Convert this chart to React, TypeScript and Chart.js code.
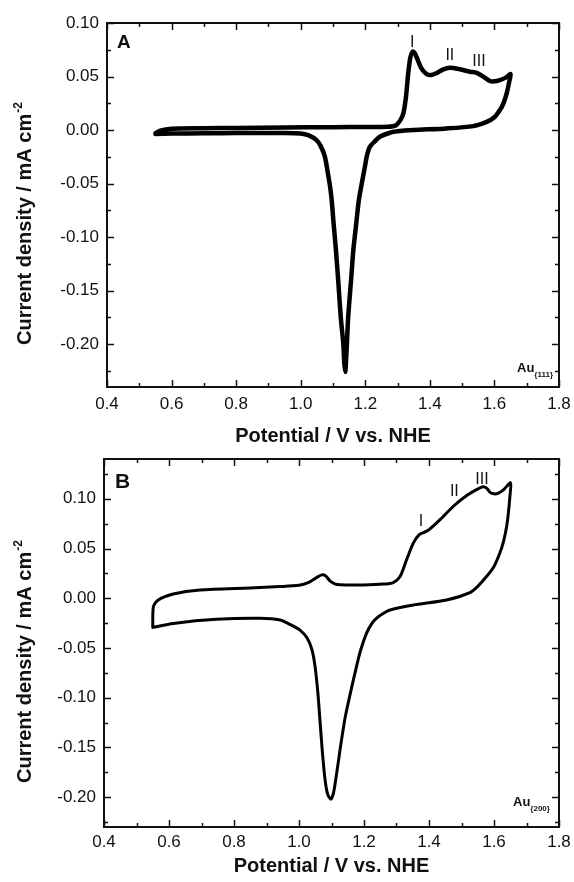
import React, { useEffect, useRef } from 'react';
import { Chart, registerables } from 'chart.js';

Chart.register(...registerables);

const FONT = '"Liberation Sans", Arial, Helvetica, sans-serif';
const INK = '#111111';

// ---------- Panel A : Au{111} ----------
const potentialA = [
  0.55, 0.565, 0.6, 0.7, 0.8, 0.95, 1.1, 1.2, 1.27, 1.295, 1.31, 1.318, 1.326, 1.333, 1.34, 1.347, 1.353,
  1.359, 1.374, 1.39, 1.405, 1.42, 1.44, 1.462, 1.49, 1.524, 1.545, 1.565, 1.586, 1.6, 1.617, 1.635, 1.65,
  1.645, 1.638, 1.628, 1.617, 1.6, 1.576, 1.534, 1.452, 1.349, 1.3, 1.276, 1.245, 1.228, 1.214, 1.205, 1.199,
  1.189, 1.18, 1.171, 1.163, 1.156, 1.147, 1.143, 1.14, 1.138, 1.135, 1.132, 1.124, 1.116, 1.109, 1.101,
  1.096, 1.091, 1.084, 1.075, 1.062, 1.049, 1.025, 1.0, 0.95, 0.8, 0.7, 0.6, 0.55,
];
const currentA = [
  -0.003, -0.0005, 0.0012, 0.0017, 0.002, 0.0025, 0.0027, 0.0029, 0.003, 0.0045, 0.01, 0.0156, 0.031, 0.053, 0.0685, 0.0732, 0.072,
  0.068, 0.0576, 0.0523, 0.0514, 0.053, 0.0565, 0.0582, 0.057, 0.0545, 0.0535, 0.05, 0.0458, 0.0455, 0.0467, 0.049, 0.0523,
  0.044, 0.0342, 0.025, 0.0187, 0.012, 0.0077, 0.0037, 0.0015, 0.0, -0.0012, -0.0025, -0.0063, -0.011, -0.0157, -0.024, -0.034,
  -0.05, -0.0655, -0.09, -0.112, -0.14, -0.1746, -0.2, -0.218, -0.226, -0.218, -0.2, -0.1746, -0.14, -0.112, -0.084,
  -0.0655, -0.053, -0.04, -0.025, -0.015, -0.0094, -0.005, -0.0033, -0.0028, -0.0028, -0.003, -0.0033, -0.0036,
];

// ---------- Panel B : Au{200} ----------
const potentialB = [
  0.55, 0.552, 0.567, 0.613, 0.695, 0.849, 0.942, 1.0, 1.03, 1.055, 1.07, 1.082, 1.095, 1.11, 1.126, 1.198,
  1.26, 1.29, 1.311, 1.331, 1.352, 1.37, 1.39, 1.403, 1.434, 1.475, 1.516, 1.545, 1.567, 1.578, 1.588, 1.6,
  1.612, 1.629, 1.651,
  1.649, 1.644, 1.639, 1.63, 1.618, 1.6, 1.577, 1.55, 1.526, 1.454, 1.352, 1.28, 1.26, 1.239, 1.225, 1.208,
  1.188, 1.176, 1.162, 1.142, 1.126, 1.115, 1.106, 1.098, 1.088, 1.08, 1.072, 1.065, 1.058, 1.05, 1.04, 1.025, 1.003,
  0.97, 0.942, 0.88, 0.746, 0.613, 0.55,
];
const currentB = [
  -0.0293, -0.0085, -0.0017, 0.0043, 0.0084, 0.0104, 0.0117, 0.013, 0.016, 0.021, 0.0235, 0.0225, 0.0175, 0.0145, 0.0135, 0.0134,
  0.0142, 0.0158, 0.0218, 0.0387, 0.0556, 0.064, 0.067, 0.0697, 0.079, 0.0925, 0.1033, 0.109, 0.112, 0.1105, 0.1065, 0.105,
  0.1055, 0.109, 0.116,
  0.1026, 0.085, 0.0723, 0.058, 0.0454, 0.032, 0.0218, 0.012, 0.0057, -0.0017, -0.0068, -0.0118, -0.015, -0.0199, -0.025, -0.035,
  -0.054, -0.07, -0.0896, -0.12, -0.153, -0.178, -0.196, -0.202, -0.197, -0.182, -0.155, -0.125, -0.095, -0.07, -0.052, -0.04, -0.032,
  -0.026, -0.0219, -0.0202, -0.0212, -0.0253, -0.0293,
];

// peak labels (text, then anchor in data units)
const peakNames = ['I', 'II', 'III'];
const peakPotentialA = [1.345, 1.462, 1.552];
const peakCurrentA = [0.0776, 0.0654, 0.0598];
const peakPotentialB = [1.375, 1.478, 1.563];
const peakCurrentB = [0.073, 0.1033, 0.1144];

const xTitle = 'Potential / V vs. NHE';
const yTitleMain = 'Current density / mA cm';
const yTitleSup = '-2';

const decorPlugin = {
  id: 'decor',
  afterDraw(chart: any, _args: any, opts: any) {
    const { ctx, chartArea: ca, scales } = chart;
    const xs = scales.x;
    const ys = scales.y;
    ctx.save();
    // frame
    ctx.strokeStyle = INK;
    ctx.lineWidth = 2;
    ctx.strokeRect(ca.left, ca.top, ca.right - ca.left, ca.bottom - ca.top);
    ctx.lineWidth = 1.5;
    const seg = (x1: number, y1: number, x2: number, y2: number) => {
      ctx.beginPath();
      ctx.moveTo(x1, y1);
      ctx.lineTo(x2, y2);
      ctx.stroke();
    };
    const ticksOf = (scale: any, horizontal: boolean) => {
      const vals = scale.ticks.map((t: any) => t.value);
      const half = (vals[1] - vals[0]) / 2;
      let v = vals[0];
      while (v - half >= scale.min - 1e-9) v -= half;
      for (; v <= scale.max + 1e-9; v += half) {
        const major = vals.some((t: number) => Math.abs(t - v) < 1e-6);
        const len = major ? 7 : 4;
        const p = Math.round(scale.getPixelForValue(v)) + 0.5;
        if (horizontal) {
          seg(p, ca.bottom, p, ca.bottom - len);
          seg(p, ca.top, p, ca.top + len);
        } else {
          seg(ca.left, p, ca.left + len, p);
          seg(ca.right, p, ca.right - len, p);
        }
      }
    };
    ticksOf(xs, true);
    ticksOf(ys, false);

    ctx.fillStyle = INK;
    // y title with superscript
    ctx.save();
    ctx.translate(opts.yTitleX, opts.yTitleBottom);
    ctx.rotate(-Math.PI / 2);
    ctx.textAlign = 'left';
    ctx.textBaseline = 'alphabetic';
    ctx.font = `bold 20px ${FONT}`;
    ctx.fillText(yTitleMain, 0, 0);
    const w = ctx.measureText(yTitleMain).width;
    ctx.font = `bold 12px ${FONT}`;
    ctx.fillText(yTitleSup, w + 1, -9);
    ctx.restore();

    // panel letter
    ctx.textAlign = 'left';
    ctx.textBaseline = 'alphabetic';
    ctx.font = `bold ${opts.letterSize}px ${FONT}`;
    ctx.fillText(opts.letter, ca.left + opts.letterDx, ca.top + opts.letterDy);

    // crystal face label
    ctx.font = `bold 13px ${FONT}`;
    const ax = ca.right - opts.faceDx;
    const ay = ca.bottom - opts.faceDy;
    ctx.fillText('Au', ax, ay);
    const aw = ctx.measureText('Au').width;
    ctx.font = `bold 8px ${FONT}`;
    ctx.fillText(opts.face, ax + aw, ay + 5);

    // peak labels
    ctx.font = `16px ${FONT}`;
    ctx.textAlign = 'center';
    opts.peakX.forEach((px: number, i: number) => {
      ctx.fillText(peakNames[i], xs.getPixelForValue(px), ys.getPixelForValue(opts.peakY[i]));
    });
    ctx.restore();
  },
};

function makeConfig(p: any): any {
  return {
    type: 'scatter',
    data: {
      datasets: [
        {
          data: p.xs.map((x: number, i: number) => ({ x, y: p.ys[i] })),
          showLine: true,
          borderColor: '#000',
          borderWidth: p.lineWidth,
          pointRadius: 0,
          tension: 0.25,
          fill: false,
          borderCapStyle: 'round',
          borderJoinStyle: 'round',
        },
      ],
    },
    options: {
      animation: false,
      responsive: false,
      devicePixelRatio: 1,
      events: [],
      layout: { padding: { top: p.padTop, right: 15, left: 0, bottom: 0 } },
      plugins: {
        legend: { display: false },
        tooltip: { enabled: false },
        decor: p.decor,
      },
      scales: {
        x: {
          type: 'linear',
          min: 0.4,
          max: 1.8,
          grid: { display: false, drawTicks: false },
          border: { display: false },
          ticks: {
            stepSize: 0.2,
            padding: p.xTickPad,
            color: INK,
            font: { family: FONT, size: 17 },
            maxRotation: 0,
            autoSkip: false,
            callback: (v: any) => Number(v).toFixed(1),
          },
          title: {
            display: true,
            text: xTitle,
            color: INK,
            font: { family: FONT, size: 20, weight: 'bold' },
            padding: { top: 0, bottom: p.xTitlePad },
          },
          afterFit: (s: any) => {
            s.height = p.xAxisHeight;
            s.paddingLeft = 0;
            s.paddingRight = 0;
          },
        },
        y: {
          type: 'linear',
          min: p.yMin,
          max: p.yMax,
          grid: { display: false, drawTicks: false },
          border: { display: false },
          ticks: {
            stepSize: 0.05,
            includeBounds: false,
            padding: 8,
            color: INK,
            font: { family: FONT, size: 17 },
            autoSkip: false,
            callback: (v: any) => {
              const n = Number(v);
              return (Math.abs(n) < 1e-9 ? 0 : n).toFixed(2);
            },
          },
          afterFit: (s: any) => {
            s.width = p.yAxisWidth;
            s.paddingTop = 0;
            s.paddingBottom = 0;
          },
        },
      },
    },
    plugins: [decorPlugin],
  };
}

export default function App() {
  const refA = useRef<HTMLCanvasElement>(null);
  const refB = useRef<HTMLCanvasElement>(null);

  useEffect(() => {
    const a = new Chart(
      refA.current as HTMLCanvasElement,
      makeConfig({
        xs: potentialA,
        ys: currentA,
        yMin: -0.24,
        yMax: 0.1,
        lineWidth: 4.5,
        padTop: 23,
        yAxisWidth: 107,
        xAxisHeight: 63,
        xTickPad: 7,
        xTitlePad: 2,
        decor: {
          yTitleX: 31,
          yTitleBottom: 345,
          letter: 'A',
          letterSize: 19,
          letterDx: 10,
          letterDy: 25,
          face: '{111}',
          faceDx: 42,
          faceDy: 15,
          peakX: peakPotentialA,
          peakY: peakCurrentA,
        },
      })
    );
    const b = new Chart(
      refB.current as HTMLCanvasElement,
      makeConfig({
        xs: potentialB,
        ys: currentB,
        yMin: -0.23,
        yMax: 0.14,
        lineWidth: 3,
        padTop: 9,
        yAxisWidth: 104,
        xAxisHeight: 55,
        xTickPad: 5,
        xTitlePad: 4,
        decor: {
          yTitleX: 31,
          yTitleBottom: 333,
          letter: 'B',
          letterSize: 21,
          letterDx: 11,
          letterDy: 29,
          face: '{200}',
          faceDx: 46,
          faceDy: 21,
          peakX: peakPotentialB,
          peakY: peakCurrentB,
        },
      })
    );
    return () => {
      a.destroy();
      b.destroy();
    };
  }, []);

  return (
    <div style={{ position: 'absolute', left: 0, top: 0, width: 574, height: 882, background: '#fff' }}>
      <canvas ref={refA} width={574} height={450} style={{ display: 'block', width: 574, height: 450 }} />
      <canvas ref={refB} width={574} height={432} style={{ display: 'block', width: 574, height: 432 }} />
    </div>
  );
}
